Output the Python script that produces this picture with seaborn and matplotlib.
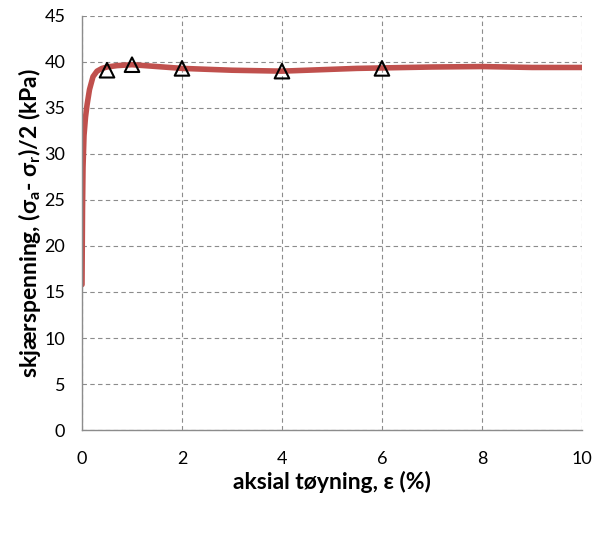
import numpy as np
import pandas as pd
import matplotlib
matplotlib.use('Agg')
import matplotlib.pyplot as plt
import seaborn as sns

# test curve
strain = [0.0, 0.01, 0.02, 0.04, 0.07, 0.1, 0.15, 0.22, 0.3, 0.4, 0.5, 0.7, 1.0, 1.5,
          2.0, 2.5, 3.0, 3.5, 4.0, 4.5, 5.0, 5.5, 6.0, 7.0, 8.0, 9.0, 10.0]
shear = [15.8, 24.0, 28.5, 32.0, 34.0, 35.3, 37.0, 38.4, 39.0, 39.3, 39.45, 39.6, 39.7, 39.5,
         39.3, 39.2, 39.1, 39.05, 39.0, 39.1, 39.2, 39.3, 39.35, 39.45, 39.5, 39.4, 39.4]

# marked points
mark_strain = [0.5, 1.0, 2.0, 4.0, 6.0]
mark_shear = [39.1, 39.7, 39.3, 39.0, 39.3]

df_curve = pd.DataFrame({'strain': strain, 'shear': shear})
df_mark = pd.DataFrame({'strain': mark_strain, 'shear': mark_shear})

sns.set_style('white')
plt.rcParams['font.family'] = ['Lato', 'DejaVu Sans']
plt.rcParams['text.color'] = 'black'
plt.rcParams['axes.labelcolor'] = 'black'
plt.rcParams['xtick.color'] = 'black'
plt.rcParams['ytick.color'] = 'black'

fig = plt.figure(figsize=(6.03, 5.42), dpi=100)
ax = fig.add_axes([0.136, 0.2066, 0.829, 0.764])

sns.lineplot(data=df_curve, x='strain', y='shear', color='#C0504D', linewidth=4, ax=ax)
sns.scatterplot(data=df_mark, x='strain', y='shear', marker='^', s=110,
                facecolor='none', edgecolor='black', linewidth=1.5, ax=ax, zorder=5)

ax.set_xlim(0, 10)
ax.set_ylim(0, 45)
ax.set_xticks(range(0, 11, 2))
ax.set_yticks(range(0, 46, 5))
ax.grid(True, linestyle=(0, (4, 3)), color='#8c8c8c', linewidth=0.8)
ax.set_axisbelow(True)

for side in ['top', 'right']:
    ax.spines[side].set_visible(False)
for side in ['left', 'bottom']:
    ax.spines[side].set_color('#8c8c8c')
    ax.spines[side].set_linewidth(1)

ax.tick_params(axis='x', labelsize=13, length=0, pad=15)
ax.tick_params(axis='y', labelsize=13, length=0, pad=12)
ax.set_xlabel('aksial tøyning, ε (%)', fontsize=16.5, fontweight='bold', labelpad=3)
ax.set_ylabel(r'skjærspenning, (σ$_\mathregular{a}$- σ$_\mathregular{r}$)/2 (kPa)',
              fontsize=16.5, fontweight='bold', labelpad=1)

fig.savefig('out.png', dpi=100)
